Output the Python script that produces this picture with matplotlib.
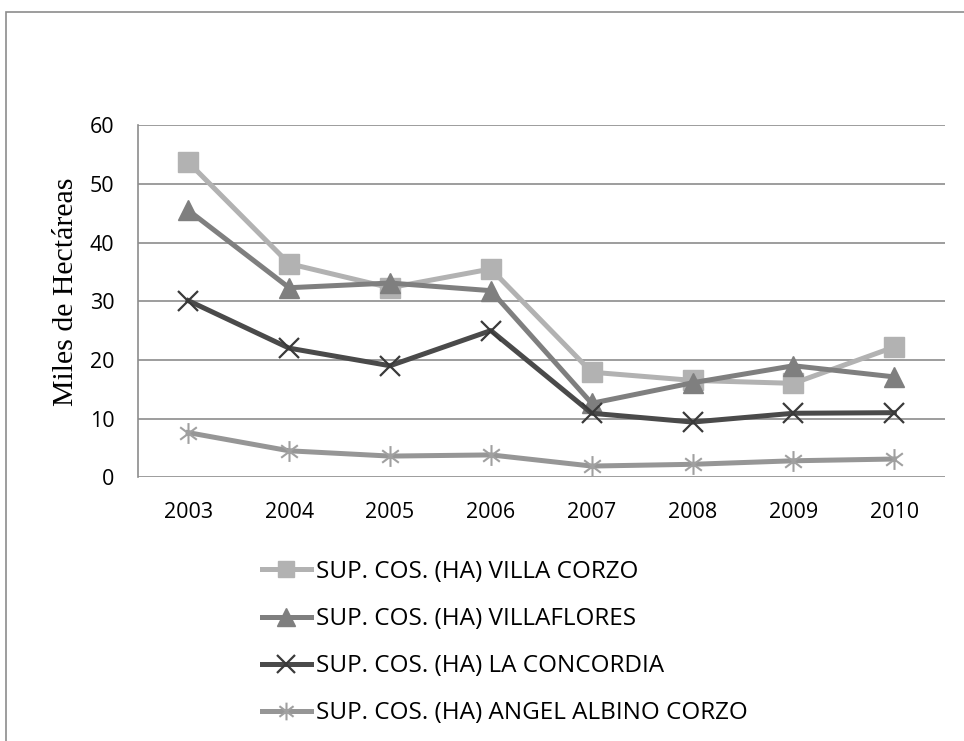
import numpy as np
import matplotlib
matplotlib.use("Agg")
import matplotlib.pyplot as plt
from matplotlib.patches import Rectangle
from matplotlib.path import Path

years = ["2003", "2004", "2005", "2006", "2007", "2008", "2009", "2010"]
villa_corzo = [53.7, 36.4, 32.3, 35.5, 17.9, 16.5, 16.0, 22.2]
villaflores = [45.5, 32.3, 33.1, 31.8, 12.6, 16.1, 19.0, 17.1]
la_concordia = [30.1, 22.0, 19.0, 25.0, 10.9, 9.4, 10.9, 11.0]
angel_albino = [7.6, 4.5, 3.6, 3.8, 1.9, 2.2, 2.8, 3.1]

labels = ["SUP. COS. (HA) VILLA CORZO", "SUP. COS. (HA) VILLAFLORES",
          "SUP. COS. (HA) LA CONCORDIA", "SUP. COS. (HA) ANGEL ALBINO CORZO"]

# asterisk marker: vertical bar + X
star = Path([(0, -1), (0, 1), (-0.8, -0.6), (0.8, 0.6), (-0.8, 0.6), (0.8, -0.6)],
            [Path.MOVETO, Path.LINETO, Path.MOVETO, Path.LINETO, Path.MOVETO, Path.LINETO])

fig = plt.figure(figsize=(9.64, 7.41), dpi=100)
ax = fig.add_axes([0.143, 0.356, 0.837, 0.475])

# border around the chart area
fig.patches.append(Rectangle((0.006, -0.05), 1.1, 1.034, transform=fig.transFigure,
                             fill=False, edgecolor="#8c8c8c", lw=1.2))

x = np.arange(len(years))
lw = 3.6
ax.plot(x, villa_corzo, color="#b2b2b2", lw=lw, marker="s", ms=14, label=labels[0])
ax.plot(x, villaflores, color="#7f7f7f", lw=lw, marker="^", ms=15, label=labels[1])
ax.plot(x, la_concordia, color="#4a4a4a", lw=lw, marker="x", ms=15, mew=1.6,
        mec="#3a3a3a", label=labels[2])
ax.plot(x, angel_albino, color="#969696", lw=lw, marker=star, ms=15, mew=1.5,
        mec="#a0a0a0", label=labels[3])

ax.set_xlim(-0.5, 7.5)
ax.set_ylim(0, 60)
ax.set_yticks(range(0, 61, 10))
ax.set_xticks(x)
ax.set_xticklabels(years)
ax.yaxis.grid(True, color="#8c8c8c", lw=1.2)
ax.set_axisbelow(True)
for s in ["top", "right", "bottom"]:
    ax.spines[s].set_visible(False)
ax.spines["left"].set_color("#8c8c8c")
ax.spines["left"].set_linewidth(1.2)
ax.tick_params(axis="y", length=0, labelsize=15.5, pad=17)
ax.tick_params(axis="x", length=0, labelsize=15.5, pad=18)
for t in ax.get_xticklabels() + ax.get_yticklabels():
    t.set_fontfamily("Open Sans")

ax.set_ylabel("Miles de Hectáreas", fontsize=21.5, family="Liberation Serif")
ax.yaxis.set_label_coords(-0.073, 0.528)

leg = ax.legend(loc="upper left", bbox_to_anchor=(0.154, -0.235), frameon=False,
                borderaxespad=0, borderpad=0,
                prop={"family": "Open Sans", "size": 17.5}, handlelength=2.0,
                handletextpad=0.2, labelspacing=0.95, markerscale=0.85)

fig.savefig("out.png", dpi=100)
